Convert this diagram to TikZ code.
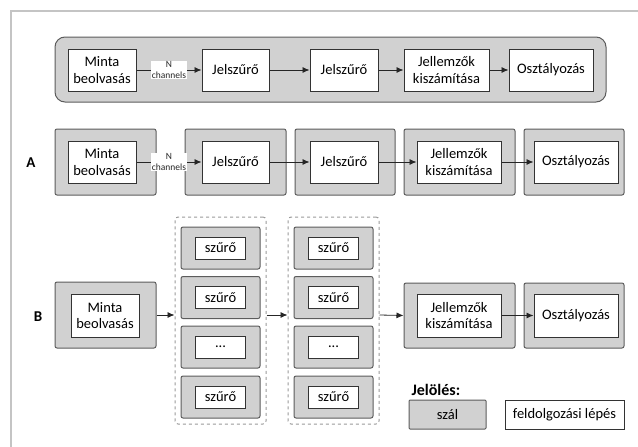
\documentclass[tikz,border=0pt]{standalone}
\usepackage{fontspec}
\setmainfont{Carlito}
\usepackage{tikz}
\usetikzlibrary{arrows.meta}
\usepackage{xcolor}
\definecolor{szalszin}{HTML}{D1D1D1}
\definecolor{keretszin}{HTML}{5C5C5C}
\definecolor{lapszin}{HTML}{C4C4C4}
\newcommand{\pontok}{...}
\begin{document}
\begin{tikzpicture}[x=1pt,y=-1pt]%
  \tikzstyle{lepes}=[rectangle,draw=black!80,fill=white,line width=1pt,align=center,inner sep=0,minimum height=42pt,font=\fontsize{14.5}{16.5}\selectfont]
  \tikzstyle{szal}=[rectangle,draw=keretszin,fill=szalszin,line width=1pt,rounded corners=2pt,minimum height=66pt]
  \tikzstyle{csoport}=[rectangle,draw=gray!80,dashed,line width=1pt,rounded corners=3pt,minimum width=91pt,minimum height=207pt]
  \tikzstyle{nyil}=[-{Latex[length=7pt,width=6pt]},line width=0.8pt,black!85]
  \tikzstyle{betu}=[font=\fontsize{15}{17}\selectfont\bfseries]
  \useasboundingbox (0,0) rectangle (638,447);
  \draw[lapszin,line width=2pt] (11,447) -- (11,11) -- (638,11);
  % felso sor
  \node(sor)[szal,rounded corners=10pt,minimum width=551pt,minimum height=65pt] at (330.5,69.5){};
  \node(m0)[lepes,minimum width=68pt] at (102,70){Minta\\beolvasás};
  \node(j0)[lepes,minimum width=67pt] at (235.5,70){Jelszűrő};
  \node(k0)[lepes,minimum width=68pt] at (344,70){Jelszűrő};
  \node(f0)[lepes,minimum width=85pt] at (446.5,70){Jellemzők\\kiszámítása};
  \node(o0)[lepes,minimum width=84pt] at (551,70){Osztályozás};
  \draw[nyil] (m0) -- node[fill=white,inner sep=1pt,align=center,font=\fontsize{9.5}{10.5}\selectfont]{N\\channels} (j0);
  \draw[nyil] (j0) -- (k0);
  \draw[nyil] (k0) -- (f0);
  \draw[nyil] (f0) -- (o0);
  % A
  \node(A)[betu] at (31,163){A};
  \node(tA1)[szal,minimum width=101pt] at (105.5,162){};
  \node(tA2)[szal,minimum width=101pt] at (235.5,162){};
  \node(tA3)[szal,minimum width=100pt] at (345,162){};
  \node(tA4)[szal,minimum width=111pt] at (459.5,162){};
  \node(tA5)[szal,minimum width=100pt] at (574,162){};
  \node(mA)[lepes,minimum width=68pt] at (102,162){Minta\\beolvasás};
  \node(jA)[lepes,minimum width=67pt] at (235.5,162){Jelszűrő};
  \node(kA)[lepes,minimum width=68pt] at (344,162){Jelszűrő};
  \node(fA)[lepes,minimum width=84pt] at (459,162){Jellemzők\\kiszámítása};
  \node(oA)[lepes,minimum width=84pt] at (576,162){Osztályozás};
  \draw[nyil] (mA) -- node[fill=white,inner sep=1pt,align=center,font=\fontsize{9.5}{10.5}\selectfont]{N\\channels} (jA);
  \draw[nyil] (jA) -- (kA);
  \draw[nyil] (kA) -- (fA);
  \draw[nyil] (fA) -- (oA);
  % B
  \node(B)[betu] at (38,317){B};
  \node(tB1)[szal,minimum width=101pt] at (105.5,315){};
  \node(mB)[lepes,minimum width=68pt,minimum height=43pt] at (105,315.5){Minta\\beolvasás};
  \node(d1)[csoport] at (220.5,320.5){};
  \node(d2)[csoport] at (333.5,320.5){};
  \foreach \y/\t [count=\i] in {248/szűrő,297.5/szűrő,347/\pontok,397/szűrő}{
    \node(sa\i)[szal,minimum width=79pt,minimum height=42pt] at (220.5,\y){};
    \node(sza\i)[lepes,minimum width=50pt,minimum height=22pt] at (sa\i){\t};
    \node(sb\i)[szal,minimum width=79pt,minimum height=42pt] at (333.5,\y){};
    \node(szb\i)[lepes,minimum width=50pt,minimum height=22pt] at (sb\i){\t};
  }
  \node(tB4)[szal,minimum width=111pt,minimum height=65pt] at (459.5,315.5){};
  \node(tB5)[szal,minimum width=100pt,minimum height=65pt] at (574,315.5){};
  \node(fB)[lepes,minimum width=84pt,minimum height=43pt] at (459,315.5){Jellemzők\\kiszámítása};
  \node(oB)[lepes,minimum width=84pt,minimum height=43pt] at (576,315.5){Osztályozás};
  \draw[nyil] (tB1.east) -- (tB1.east -| d1.west);
  \draw[nyil] (tB1.east -| d1.east) -- (tB1.east -| d2.west);
  \draw[nyil] (tB1.east -| d2.east) -- (tB4.west);
  \draw[nyil] (fB) -- (oB);
  % jeloles
  \node(jel)[anchor=west,font=\fontsize{16}{18}\selectfont\bfseries] at (408,390){Jelölés:};
  \node(szal)[szal,minimum width=77pt,minimum height=29pt,rounded corners=1pt,font=\fontsize{14.5}{16.5}\selectfont] at (447.5,414.5){szál};
  \node(lep)[lepes,minimum width=119pt,minimum height=29pt] at (564.5,414.5){feldolgozási lépés};
\end{tikzpicture}
\end{document}
